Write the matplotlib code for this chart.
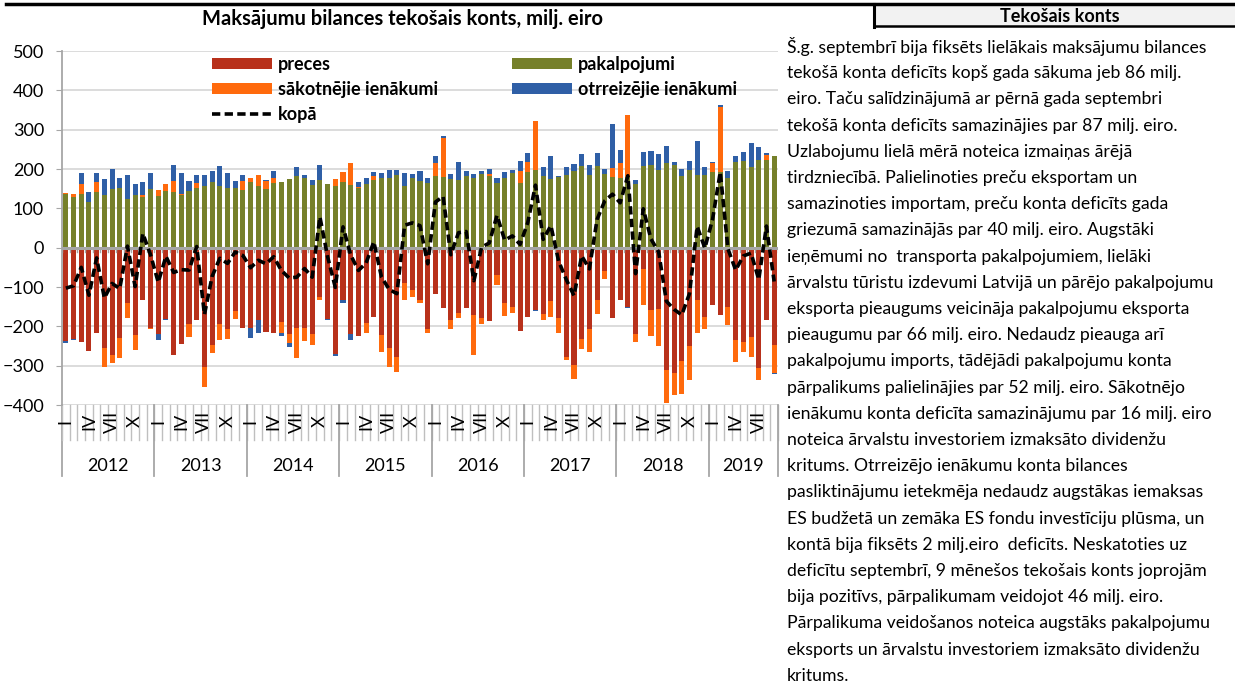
import matplotlib
matplotlib.use('Agg')
import matplotlib.pyplot as plt
from matplotlib.transforms import blended_transform_factory
from matplotlib.lines import Line2D
import numpy as np

plt.rcParams['font.family'] = ['Lato', 'DejaVu Sans']

W, H = 1235, 686

years = ['2012', '2013', '2014', '2015', '2016', '2017', '2018', '2019']
months_in_year = [12, 12, 12, 12, 12, 12, 12, 9]
month_labels = ['I', '', '', 'IV', '', '', 'VII', '', '', 'X', '', '']

# milj. eiro, Jan 2012 - Sep 2019
preces = [-237, -232, -239, -262, -217, -256, -272, -229, -140, -223, -132, -204,
          -220, -182, -274, -246, -195, -183, -304, -248, -194, -206, -160, -204,
          -205, -183, -214, -218, -189, -219, -204, -204, -219, -125, -181, -270,
          -132, -219, -225, -191, -177, -223, -255, -278, -91, -107, -132, -208,
          -117, -154, -185, -166, -153, -170, -178, -187, -69, -141, -151, -212,
          -177, -159, -168, -136, -179, -279, -299, -231, -207, -134, -59, -179,
          -134, -151, -220, -55, -159, -155, -310, -319, -287, -249, -132, -177,
          -145, -170, -151, -236, -239, -228, -305, -185, -247]
pakalpojumi = [136, 128, 136, 116, 141, 133, 149, 151, 124, 133, 129, 149,
               131, 143, 141, 133, 143, 151, 156, 167, 157, 151, 151, 146,
               166, 158, 150, 165, 167, 175, 181, 177, 159, 172, 162, 158,
               168, 159, 151, 161, 172, 176, 178, 184, 157, 178, 169, 165,
               183, 180, 175, 171, 182, 178, 188, 182, 165, 176, 189, 165,
               193, 198, 181, 175, 180, 186, 194, 207, 186, 208, 188, 179,
               178, 179, 162, 207, 210, 197, 216, 209, 183, 197, 186, 184,
               192, 193, 178, 219, 221, 206, 222, 223, 234]
sakotnejie = [3, 9, 27, 0, 25, -47, -20, -52, -40, -38, 4, -4,
              16, 20, 29, 3, -32, 14, -50, -19, -40, -25, -21, 23,
              12, 27, 19, 13, -27, -23, -76, -34, -29, -7, 0, 17,
              25, 57, 3, -25, 11, -42, -49, -37, -43, -18, -8, -10,
              33, 100, -21, -14, 0, -102, -16, 6, -27, -33, -16, 30,
              24, 123, -15, -41, -38, -7, -35, -27, -57, -34, -21, 24,
              38, 158, -19, -90, -65, -95, -84, -56, -85, -88, -85, -29,
              22, 164, -46, -55, -26, -51, -31, 13, -72]
otrreizejie = [-5, -2, 26, 25, 25, 42, 52, 26, 60, 29, 35, 41,
               -15, -3, 41, 54, 27, 21, 28, 27, 50, 40, 19, 15,
               -24, -34, 4, 17, -9, -10, 24, 8, 14, 38, -4, -6,
               -8, -16, 13, 16, 9, 14, 20, 14, 34, 10, 27, 12,
               17, 4, 13, 47, 12, 10, 7, 11, 13, 17, 8, 25,
               24, -3, 23, 58, 3, 19, 18, 30, 24, 32, 11, 112,
               32, -3, 11, 37, 36, 42, 42, 9, 18, 23, 85, 21,
               3, 5, 16, 15, 23, 59, 33, 4, -1]

series_names = ['preces', 'pakalpojumi', 'sākotnējie ienākumi', 'otrreizējie ienākumi']
series_colors = ['#B8311B', '#76802A', '#FF6A0D', '#2F5FA6']

text_lines = [
    'Š.g. septembrī bija fiksēts lielākais maksājumu bilances',
    'tekošā konta deficīts kopš gada sākuma jeb 86 milj.',
    'eiro. Taču salīdzinājumā ar pērnā gada septembri',
    'tekošā konta deficīts samazinājies par 87 milj. eiro.',
    'Uzlabojumu lielā mērā noteica izmaiņas ārējā',
    'tirdzniecībā. Palielinoties preču eksportam un',
    'samazinoties importam, preču konta deficīts gada',
    'griezumā samazinājās par 40 milj. eiro. Augstāki',
    'ieņēmumi no  transporta pakalpojumiem, lielāki',
    'ārvalstu tūristu izdevumi Latvijā un pārējo pakalpojumu',
    'eksporta pieaugums veicināja pakalpojumu eksporta',
    'pieaugumu par 66 milj. eiro. Nedaudz pieauga arī',
    'pakalpojumu imports, tādējādi pakalpojumu konta',
    'pārpalikums palielinājies par 52 milj. eiro. Sākotnējo',
    'ienākumu konta deficīta samazinājumu par 16 milj. eiro',
    'noteica ārvalstu investoriem izmaksāto dividenžu',
    'kritums. Otrreizējo ienākumu konta bilances',
    'pasliktinājumu ietekmēja nedaudz augstākas iemaksas',
    'ES budžetā un zemāka ES fondu investīciju plūsma, un',
    'kontā bija fiksēts 2 milj.eiro  deficīts. Neskatoties uz',
    'deficītu septembrī, 9 mēnešos tekošais konts joprojām',
    'bija pozitīvs, pārpalikumam veidojot 46 milj. eiro.',
    'Pārpalikuma veidošanos noteica augstāks pakalpojumu',
    'eksports un ārvalstu investoriem izmaksāto dividenžu',
    'kritums.',
]

data = [np.array(preces), np.array(pakalpojumi), np.array(sakotnejie), np.array(otrreizejie)]
kopa = sum(data)
n = len(preces)
x = np.arange(n)

fig = plt.figure(figsize=(W / 100, H / 100), dpi=100)
ax = fig.add_axes([62 / W, 1 - 405 / H, 716 / W, 354 / H])

# Excel-like stacking: positives up, negatives down, in series order
pos = np.zeros(n)
neg = np.zeros(n)
handles = []
for vals, name, col in zip(data, series_names, series_colors):
    bottom = np.where(vals >= 0, pos, neg)
    h = ax.bar(x, vals, bottom=bottom, width=0.66, color=col, label=name, zorder=2)
    handles.append(h)
    pos += np.clip(vals, 0, None)
    neg += np.clip(vals, None, 0)

line, = ax.plot(x, kopa, color='black', lw=2.6, ls=(0, (2.3, 1.2)), zorder=4, label='kopā')

ax.set_xlim(-0.5, n - 0.5)
ax.set_ylim(-400, 500)
ax.set_yticks(range(-400, 501, 100))
ax.yaxis.grid(True, color='#D9D9D9', lw=1.3)
ax.set_axisbelow(True)
ax.axhline(0, color='#A6A6A6', lw=2.2, zorder=3)
for s in ['top', 'right', 'bottom']:
    ax.spines[s].set_visible(False)
ax.spines['left'].set_color('#A6A6A6')
ax.spines['left'].set_linewidth(1.3)
ax.set_xticks([])
ax.tick_params(axis='y', length=4, color='#A6A6A6', labelsize=13, pad=9)

# category axis below the plot
tr = blended_transform_factory(ax.transData, ax.transAxes)
ax.plot([-0.5, -0.5], [0, -0.2], transform=tr, color='#A6A6A6', lw=1.3, clip_on=False)
for b in np.arange(n + 1) - 0.5:
    ax.plot([b, b], [0, -0.1], transform=tr, color='#BFBFBF', lw=1.0, clip_on=False)
    ax.plot([b, b], [0, -12], color='#A6A6A6', lw=1.0, zorder=3)
start = 0
for yr, cnt in zip(years, months_in_year):
    ax.plot([start + cnt - 0.5] * 2, [0, -0.2], transform=tr, color='#A6A6A6', lw=1.3, clip_on=False)
    for k in range(cnt):
        if month_labels[k]:
            ax.text(start + k, -0.047, month_labels[k], transform=tr, rotation=90,
                    ha='center', va='center', fontsize=13)
    ax.text(start + (cnt - 1) / 2, -0.172, yr, transform=tr, ha='center', va='center', fontsize=13)
    start += cnt

leg_handles = [handles[0], handles[2], line, handles[1], handles[3]]
ax.legend(handles=leg_handles, labels=[h.get_label() for h in leg_handles], ncol=2,
          loc='upper left', bbox_to_anchor=(212 / W, 1 - 56 / H), bbox_transform=fig.transFigure,
          frameon=False, prop={'weight': 'bold', 'size': 13}, handlelength=3.3,
          handleheight=0.62, handletextpad=0.35, columnspacing=4.1, labelspacing=0.44,
          borderpad=0, borderaxespad=0)

# title and frame decorations
fig.text(403 / W, 1 - 19 / H, 'Maksājumu bilances tekošais konts, milj. eiro',
         ha='center', va='center', fontsize=14.5, weight='bold')
fig.add_artist(Line2D([6 / W, 1], [1 - 4 / H] * 2, color='black', lw=2.5))
fig.add_artist(plt.Rectangle((874 / W, 1 - 26 / H), 361 / W, 22 / H, transform=fig.transFigure,
                             facecolor='#F2F2F2', edgecolor='none'))
fig.add_artist(Line2D([874 / W, 874 / W], [1 - 4 / H, 1 - 27 / H], color='black', lw=2.2))
fig.add_artist(Line2D([874 / W, 1], [1 - 26 / H] * 2, color='black', lw=1.8))
fig.text(1060 / W, 1 - 17 / H, 'Tekošais konts', ha='center', va='center',
         fontsize=13, weight='bold')

for i, t in enumerate(text_lines):
    fig.text(787 / W, 1 - (47 + i * 26.2) / H, t, ha='left', va='center', fontsize=12.7)

fig.savefig('out.png', dpi=100)
